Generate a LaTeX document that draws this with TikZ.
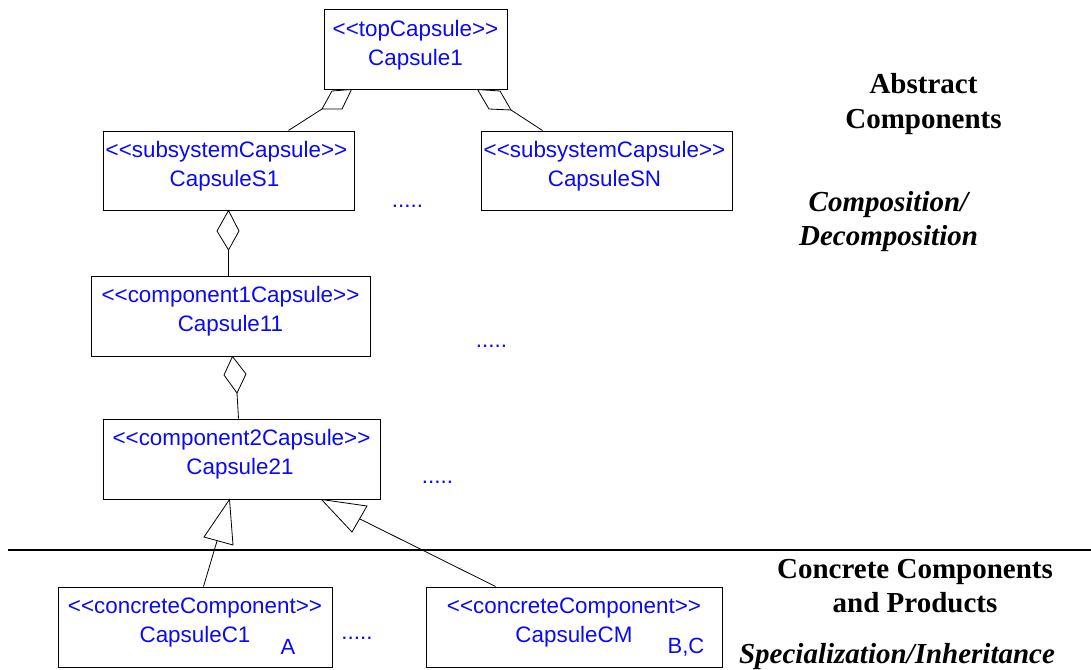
\documentclass[tikz,border=0pt]{standalone}
\usepackage{fontspec}
\setmainfont{Liberation Sans}
\newfontfamily\serifbf{Liberation Serif}
\usetikzlibrary{calc}
\definecolor{capblue}{RGB}{10,10,245}
\newcommand{\lowpad}{\rule[-14pt]{0pt}{1pt}}
\newcommand{\stereo}[1]{<{}<{}#1>{}>}
\tikzset{
  x=1pt,y=-1pt,
  capbox/.style={draw=black,line width=1pt,fill=white,text=capblue,align=center,inner sep=0pt,
    font=\fontsize{22.4}{29}\selectfont},
  conn/.style={draw=black,line width=0.8pt,line join=miter},
  head/.style={draw=black,line width=0.8pt,fill=white,line join=miter},
  dotstext/.style={text=capblue,inner sep=0pt,font=\fontsize{22.4}{24}\selectfont},
  tagtext/.style={text=capblue,inner sep=0pt,font=\fontsize{22}{24}\selectfont},
  heading/.style={align=center,inner sep=0pt,font=\serifbf\bfseries\fontsize{29}{34.5}\selectfont},
  headingit/.style={align=center,inner sep=0pt,font=\serifbf\bfseries\itshape\fontsize{29}{34.5}\selectfont},
}
\begin{document}
\begin{tikzpicture}
\useasboundingbox (0,0) rectangle (1091,669);
% boxes
\node[capbox,minimum width=183pt,minimum height=79pt] (top) at (415.5,49.5) {\stereo{topCapsule}\\Capsule1\lowpad};
\node[capbox,minimum width=251pt,minimum height=79pt] (s1) at (228.5,170.5) {\stereo{subsystemCapsule}\hspace*{4pt}\\CapsuleS1\hspace*{8pt}\lowpad};
\node[capbox,minimum width=251pt,minimum height=79pt] (sn) at (606.5,170.5) {\stereo{subsystemCapsule}\hspace*{4pt}\\CapsuleSN\hspace*{4pt}\lowpad};
\node[capbox,minimum width=279pt,minimum height=80pt] (c1) at (230.5,316) {\stereo{component1Capsule}\\Capsule11\lowpad};
\node[capbox,minimum width=277pt,minimum height=80pt] (c2) at (241.5,459) {\stereo{component2Capsule}\\Capsule21\hspace*{3pt}\lowpad};
\node[capbox,minimum width=274pt,minimum height=80pt] (cc1) at (195,627) {\stereo{concreteComponent}\\CapsuleC1\lowpad};
\node[capbox,minimum width=296pt,minimum height=80pt] (ccm) at (574,627) {\stereo{concreteComponent}\\CapsuleCM\lowpad};
% separator
\coordinate (sepL) at (8,549.5);
\coordinate (sepR) at (1091,549.5);
\draw[line width=2pt] (sepL) -- (sepR);
% aggregation heads
\coordinate (a1) at ($(top.south west)+(28,0)$);
\draw[head] (a1) -- (332,91) -- (322,109) -- (342,109) -- cycle;
\draw[conn] (322,109) -- ($(s1.north west)+(186,0)$);
\coordinate (a2) at ($(top.south west)+(154,0)$);
\draw[head] (a2) -- (500,91) -- (511,110) -- (489,109) -- cycle;
\draw[conn] (511,110) -- ($(sn.north west)+(62,0)$);
\draw[head] (s1.south) -- (217,231) -- (228.5,250) -- (239,231) -- cycle;
\draw[conn] (228.5,250) -- (c1.north -| 228.5,0);
\coordinate (a4) at ($(c1.south west)+(142,0)$);
\draw[head] (a4) -- (224,375) -- (237,393) -- (246,374) -- cycle;
\draw[conn] (237,393) -- ($(c2.north west)+(136,0)$);
% inheritance heads
\draw[conn] (217,541) -- ($(cc1.north west)+(146,0)$);
\coordinate (t1) at ($(c2.south west)+(127,0)$);
\draw[head] (t1) -- (204,537) -- (233,545) -- cycle;
\draw[conn] (360,519) -- ($(ccm.north west)+(70,0)$);
\coordinate (t2) at ($(c2.south west)+(219,0)$);
\draw[head] (t2) -- (367,506) -- (352,532) -- cycle;
% dots
\node[dotstext] (d1) at (407.5,206) {.....};
\node[dotstext] (d2) at (491.5,346) {.....};
\node[dotstext] (d3) at (437.5,482) {.....};
\node[dotstext] (d4) at (357,638.5) {.....};
% tags
\node[tagtext] (ta) at (288,647) {A};
\node[tagtext] (tb) at (686,647) {B,C};
% headings
\node[heading] (h1) at (923.5,104) {Abstract\\Components};
\node[headingit] (h2) at (888.5,221.5) {Composition/\\Decomposition};
\node[heading] (h3) at (915,586) {Concrete Components\\and Products};
\node[headingit] (h4) at (897,656.5) {Specialization/Inheritance};
\end{tikzpicture}
\end{document}
